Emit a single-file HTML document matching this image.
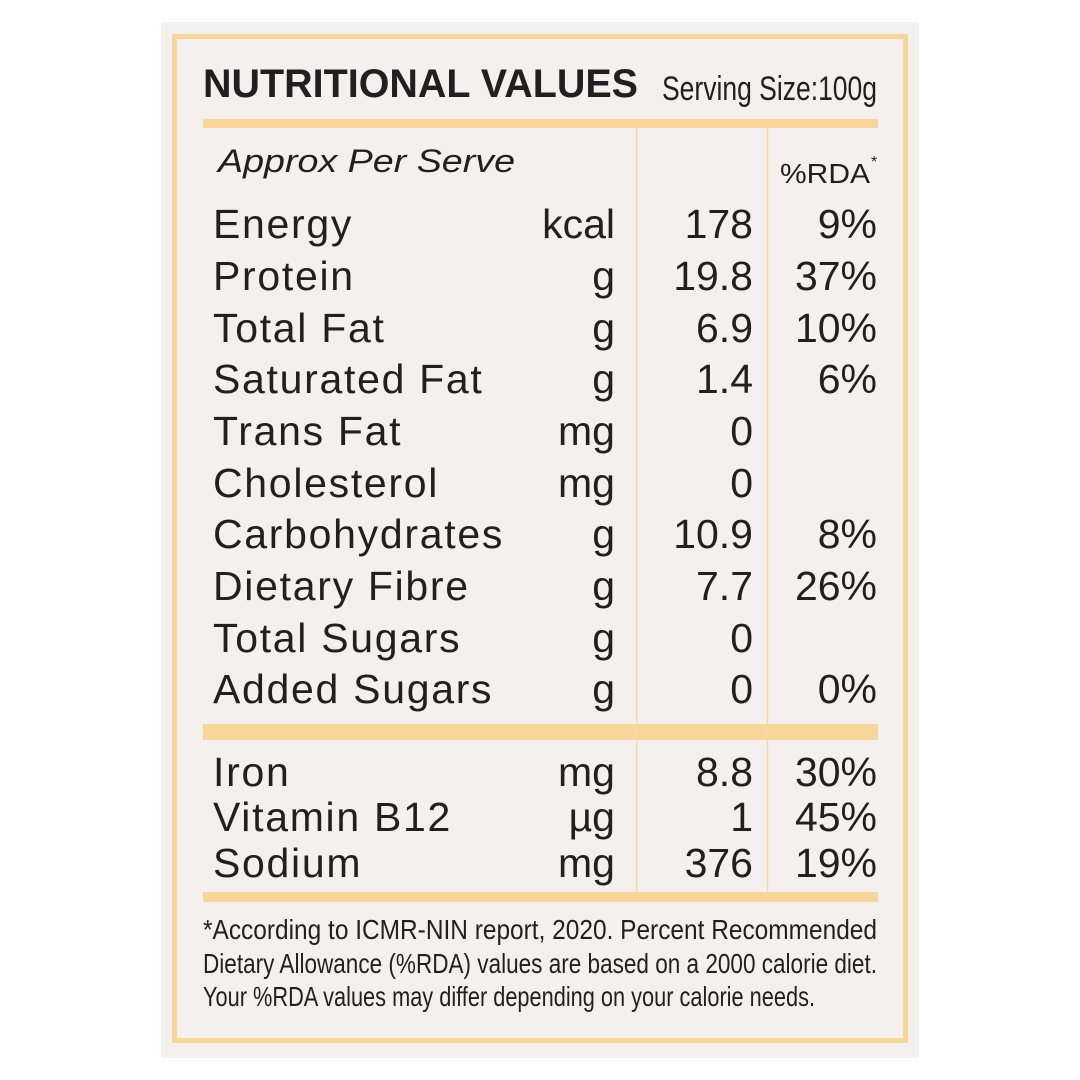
<!DOCTYPE html>
<html><head><meta charset="utf-8"><style>
html,body{margin:0;padding:0;background:#fff;}
svg{display:block;}
text{font-family:"Liberation Sans",sans-serif;fill:#231f20;}
</style></head><body>
<svg width="1080" height="1080" viewBox="0 0 1080 1080">
<rect x="161" y="22" width="758" height="1036" fill="#f4f0ed"/>
<rect x="174.5" y="36.5" width="731" height="1004" fill="none" stroke="#f8d59a" stroke-width="5"/>
<rect x="203" y="119" width="675" height="9" fill="#f8d59a"/>
<rect x="203" y="724" width="675" height="16" fill="#f8d59a"/>
<rect x="203" y="892" width="675" height="10" fill="#f8d59a"/>
<line x1="636.5" y1="128" x2="636.5" y2="892" stroke="#f5d8a8" stroke-width="1.5"/>
<line x1="767.5" y1="128" x2="767.5" y2="892" stroke="#f5d8a8" stroke-width="1.5"/>
<text x="203" y="97" font-size="40" font-weight="bold" textLength="435" lengthAdjust="spacingAndGlyphs">NUTRITIONAL VALUES</text>
<text x="662" y="100" font-size="34" textLength="215" lengthAdjust="spacingAndGlyphs">Serving Size:100g</text>
<text x="218" y="172" font-size="32" font-style="italic" textLength="297" lengthAdjust="spacingAndGlyphs">Approx Per Serve</text>
<text x="780" y="183" font-size="28" textLength="90" lengthAdjust="spacingAndGlyphs">%RDA</text>
<text x="871" y="167" font-size="16">*</text>
<g font-size="41" letter-spacing="1.7">
<text x="213" y="238">Energy</text>
<text x="213" y="290">Protein</text>
<text x="213" y="342">Total Fat</text>
<text x="213" y="393">Saturated Fat</text>
<text x="213" y="445">Trans Fat</text>
<text x="213" y="497">Cholesterol</text>
<text x="213" y="548">Carbohydrates</text>
<text x="213" y="600">Dietary Fibre</text>
<text x="213" y="652">Total Sugars</text>
<text x="213" y="703">Added Sugars</text>
<text x="213" y="786">Iron</text>
<text x="213" y="831">Vitamin B12</text>
<text x="213" y="877">Sodium</text>
</g>
<g font-size="41" text-anchor="end">
<text x="615" y="238">kcal</text><text x="753" y="238">178</text><text x="877" y="238">9%</text>
<text x="615" y="290">g</text><text x="753" y="290">19.8</text><text x="877" y="290">37%</text>
<text x="615" y="342">g</text><text x="753" y="342">6.9</text><text x="877" y="342">10%</text>
<text x="615" y="393">g</text><text x="753" y="393">1.4</text><text x="877" y="393">6%</text>
<text x="615" y="445">mg</text><text x="753" y="445">0</text>
<text x="615" y="497">mg</text><text x="753" y="497">0</text>
<text x="615" y="548">g</text><text x="753" y="548">10.9</text><text x="877" y="548">8%</text>
<text x="615" y="600">g</text><text x="753" y="600">7.7</text><text x="877" y="600">26%</text>
<text x="615" y="652">g</text><text x="753" y="652">0</text>
<text x="615" y="703">g</text><text x="753" y="703">0</text><text x="877" y="703">0%</text>
<text x="615" y="786">mg</text><text x="753" y="786">8.8</text><text x="877" y="786">30%</text>
<text x="615" y="831">µg</text><text x="753" y="831">1</text><text x="877" y="831">45%</text>
<text x="615" y="877">mg</text><text x="753" y="877">376</text><text x="877" y="877">19%</text>
</g>
<g font-size="28">
<text x="203" y="939" textLength="674" lengthAdjust="spacingAndGlyphs">*According to ICMR-NIN report, 2020. Percent Recommended</text>
<text x="203" y="973" textLength="674" lengthAdjust="spacingAndGlyphs">Dietary Allowance (%RDA) values are based on a 2000 calorie diet.</text>
<text x="203" y="1006" textLength="612" lengthAdjust="spacingAndGlyphs">Your %RDA values may differ depending on your calorie needs.</text>
</g>
</svg>
</body></html>
